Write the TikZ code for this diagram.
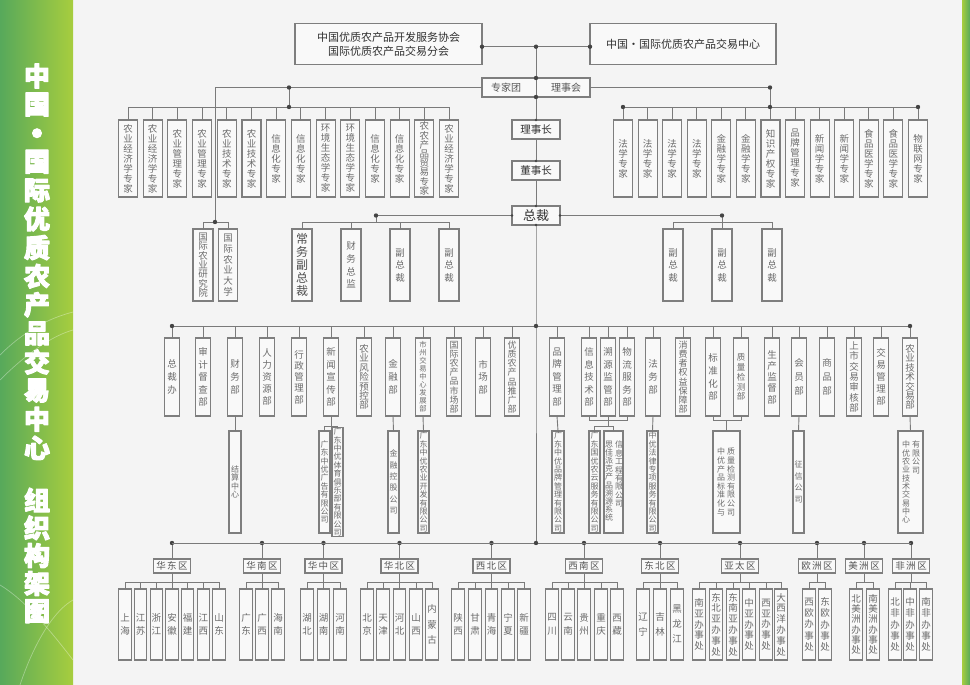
\documentclass[tikz,border=0pt]{standalone}
\usepackage{fontspec}
\setmainfont{Noto Sans CJK SC}
\setlength\parskip{0pt}
\definecolor{bgc}{HTML}{F4F4F4}
\definecolor{lnc}{HTML}{7A7A7A}
\definecolor{bxc}{HTML}{7E7E7E}
\definecolor{bxf}{HTML}{F9F9F9}
\definecolor{txc}{HTML}{6C6C6C}
\definecolor{leafc}{HTML}{6A6A6A}
\definecolor{regc}{HTML}{555555}
\definecolor{tkc}{HTML}{303030}
\definecolor{dotc}{HTML}{444444}
\definecolor{gA}{HTML}{57A95B}
\definecolor{gB}{HTML}{A7CD3E}
\definecolor{dg}{HTML}{2D6631}
\makeatletter
\def\vt#1{\vt@first#1\relax}
\def\vt@first#1{#1\vt@rest}
\def\vt@rest#1{\ifx\relax#1\else\par#1\expandafter\vt@rest\fi}
\def\vtx#1{\expandafter\vt\expandafter{#1}}
\makeatother
\newcommand\fs[2]{\fontsize{#1}{#2}\selectfont\lineskiplimit=-30pt\lineskip=0pt\relax}
\newcommand\otxt[1]{\special{pdf:literal direct 2 Tr 1.0 w 1 j 0.15 0.36 0.17 RG}{\color{white}#1}\special{pdf:literal direct 0 Tr}}
\tikzset{
 lnk/.style={draw=lnc, line width=0.9pt},
 boxs/.style={draw=bxc, line width=1.1pt, fill=bxf, inner sep=0pt, outer sep=0pt},
 vb/.style={boxs, text width=10pt, align=center, text=txc},
 expb/.style={vb, minimum width=19pt, minimum height=77pt},
 deptb/.style={vb, minimum width=15pt, minimum height=78pt},
 subb/.style={vb, text width=9pt, minimum width=12pt, minimum height=102pt, font=\fs{8}{8.4}},
 vpb/.style={vb, minimum width=20pt, minimum height=72pt},
 leafb/.style={vb, minimum width=12.3pt, minimum height=71pt, text=leafc},
 regb/.style={boxs, minimum width=37pt, minimum height=14pt, text=regc, font=\fs{9.5}{10}},
 colt/.style={text width=9pt, align=center, text=txc, anchor=north, inner sep=0pt, font=\fs{8}{8.4}},
 midb/.style={boxs, minimum width=48pt, minimum height=19pt, text=tkc},
}
\newcommand\regblk[4]{%
  \node[regb] (#1) at (#3,566) {#2};
  \draw[lnk] (#1.north |- jR) -- (#1.north);
  \foreach \xp/\lb/\sk [count=\i] in {#4} {
    \node[leafb, font=\fs{9.5}{\sk}] (#1c\i) at (\xp,624.5) {\vtx{\lb}};
    \draw[lnk] (#1c\i.north) -- (#1c\i.north |- yR2);
    \xdef\lastc{\i}
  }
  \draw[lnk] (#1c1.north |- yR2) -- (#1c\lastc.north |- yR2);
  \draw[lnk] (#1.south) -- (#1.south |- yR2);
  \fill[dotc] (#1.north |- jR) circle (2.2pt);
}
\begin{document}
\begin{tikzpicture}[x=1pt,y=-1pt]
\useasboundingbox (0,0) rectangle (970,685);
\fill[bgc] (0,0) rectangle (970,685);
\shade[left color=gA, right color=gB] (0,0) rectangle (73,685);
\shade[left color=gB, right color=gA] (962,0) rectangle (970,685);
\begin{scope}[white, opacity=0.35, line width=0.7pt]
\draw (0,355) .. controls (25,330) and (50,318) .. (73,312);
\draw (0,380) .. controls (30,350) and (55,335) .. (73,330);
\draw (0,585) .. controls (25,600) and (50,630) .. (73,660);
\draw (20,685) .. controls (35,640) and (55,610) .. (73,600);
\end{scope}
% title
\foreach \c [count=\i] in {中,国,●,国,际,优,质,农,产,品,交,易,中,心}{
  \ifnum\i=3
    \node[font=\fs{10}{10}] (t\i) at (37,{76+28.6*(\i-1)}) {\otxt{\c}};
  \else
    \node[font=\fs{26}{26}\bfseries] (t\i) at (37,{76+28.6*(\i-1)}) {\otxt{\c}};
  \fi
}
\foreach \c [count=\i] in {组,织,构,架,图}{
  \node[font=\fs{26}{26}\bfseries] (u\i) at (37,{500+27.8*(\i-1)}) {\otxt{\c}};
}
% top
\node[boxs, minimum width=187pt, minimum height=41pt, text=tkc, align=center, font=\fs{11}{14}] (assoc) at (388.5,44) {中国优质农产品开发服务协会\\国际优质农产品交易分会};
\node[boxs, minimum width=186pt, minimum height=41pt, text=tkc, font=\fs{11}{14}] (center) at (683,44) {中国・国际优质农产品交易中心};
\coordinate (jtop) at (536,46.7);
\node[boxs, minimum width=108pt, minimum height=19pt] (council) at (536,87.5) {};
\node[text=regc, font=\fs{10}{10}] (zjt) at (506,87.5) {专家团};
\node[text=regc, font=\fs{10}{10}] (lsh) at (566,87.5) {理事会};
\node[midb, font=\fs{10.5}{11}] (lsz) at (536,129.5) {理事长};
\node[midb, font=\fs{10.5}{11}] (dsz) at (536,170.5) {董事长};
\node[midb, font=\fs{13}{13}] (zc) at (536,215.5) {总裁};
% experts
\foreach \lb/\sk [count=\i] in {农业经济学专家/10,农业经济学专家/10,农业管理专家/10,农业管理专家/10,农业技术专家/10,农业技术专家/10,信息化专家/10,信息化专家/10,环境生态学专家/10,环境生态学专家/10,信息化专家/10,信息化专家/10,农农产品贸易专家/9.2,农业经济学专家/10}{
  \node[expb, font=\fs{9.5}{\sk}] (e\i) at ({128+24.7*(\i-1)},158.5) {\vtx{\lb}};
}
\foreach \lb [count=\i] in {法学专家,法学专家,法学专家,法学专家,金融学专家,金融学专家,知识产权专家,品牌管理专家,新闻学专家,新闻学专家,食品医学专家,食品医学专家,物联网专家}{
  \node[expb, font=\fs{9.5}{10}] (f\i) at ({623+24.583*(\i-1)},158.5) {\vtx{\lb}};
}
% vice presidents
\node[vpb, font=\fs{9.5}{9.3}] (in1) at (203,265) {\vt{国际农业研究院}};
\node[vpb, font=\fs{9.5}{10.8}, minimum width=19pt] (in2) at (228,265) {\vt{国际农业大学}};
\node[vpb, text width=13pt, text=tkc!85, font=\fs{12}{13}] (v1) at (302,265) {\vt{常务副总裁}};
\node[vpb, font=\fs{9.5}{12.8}] (v2) at (351,265) {\vt{财务总监}};
\node[vpb, font=\fs{9.5}{12.5}] (v3) at (400,265) {\vt{副总裁}};
\node[vpb, font=\fs{9.5}{12.5}] (v4) at (449,265) {\vt{副总裁}};
\node[vpb, font=\fs{9.5}{12.5}] (v5) at (673,265) {\vt{副总裁}};
\node[vpb, font=\fs{9.5}{12.5}] (v6) at (722,265) {\vt{副总裁}};
\node[vpb, font=\fs{9.5}{12.5}] (v7) at (772,265) {\vt{副总裁}};
% departments
\foreach \xp/\lb/\sk/\fz [count=\i] in {172/总裁办/13/9.5, 203/审计督查部/12.5/9.5, 235/财务部/13/9.5, 267/人力资源部/12/9.5, 299/行政管理部/11.3/9.5, 331/新闻宣传部/12.5/9.5, 364/农业风险预控部/9.4/9.5, 393/金融部/13/9.5, 423/市州交易中心发展部/8/7.3, 454/国际农产品市场部/9.2/9, 483/市场部/12.5/9.5, 512/优质农产品推广部/9.2/9}{
  \node[deptb, font=\fs{\fz}{\sk}] (d\i) at (\xp,377) {\vtx{\lb}};
}
\foreach \xp/\lb/\sk/\fz [count=\i from 13] in {557/品牌管理部/12.5/9.5, 589/信息技术部/12.5/9.5, 608/溯源监管部/12.5/9.5, 627/物流服务部/12.5/9.5, 653/法务部/13/9.5, 683/消费者权益保障部/9.2/9, 713/标准化部/12.8/9.5, 741/质量检测部/9.8/8.5, 772/生产监督部/11.3/9.5, 799/会员部/14/9.5, 827/商品部/14/9.5, 854/上市交易审核部/10.3/9.5, 881/交易管理部/12/9.5, 910/农业技术交易部/9.4/9.5}{
  \node[deptb, font=\fs{\fz}{\sk}] (d\i) at (\xp,377) {\vtx{\lb}};
}
% subsidiaries
\node[subb] (s1) at (235,482) {\vt{结算中心}};
\node[subb, minimum width=11pt] (s2) at (324.5,482) {\vt{广东中优广告有限公司}};
\node[subb, minimum width=11pt] (s3) at (337.5,482) {\vt{广东中优体育俱乐部有限公司}};
\node[subb, minimum width=11pt, font=\fs{8}{11.3}] (s4) at (393.5,482) {\vt{金融控股公司}};
\node[subb, minimum width=11pt] (s5) at (423.5,482) {\vt{广东中优农业开发有限公司}};
\node[subb] (s6) at (558,482) {\vt{广东中优品牌管理有限公司}};
\node[subb, minimum width=11pt] (s7) at (594.5,482) {\vt{广东国优农云服务有限公司}};
\node[subb, minimum width=19pt] (s8) at (613.5,482) {};
\node[colt] (s8a) at (619,441) {\vt{信息工程有限公司}};
\node[colt, font=\fs{8}{8.1}] (s8b) at (609,441) {\vt{思佳派克产品溯源系统}};
\node[subb, minimum width=11pt] (s9) at (652.5,482) {\vt{中优法律专项服务有限公司}};
\node[subb, minimum width=27pt] (s10) at (726.5,482) {};
\node[colt, font=\fs{8}{8.6}] (s10a) at (731,448) {\vt{质量检测有限公司}};
\node[colt, font=\fs{8}{8.6}] (s10b) at (721,448) {\vt{中优产品标准化与}};
\node[subb, minimum width=11pt, font=\fs{8}{11.7}] (s11) at (798.5,482) {\vt{征信公司}};
\node[subb, minimum width=25pt] (s12) at (910.5,482) {};
\node[colt] (s12a) at (916,441) {\vt{有限公司}};
\node[colt, font=\fs{8}{8.3}] (s12b) at (906,441) {\vt{中优农业技术交易中心}};
% coordinates
\coordinate (cLL) at (215,87.5);
\coordinate (cL) at (289,87.5);
\coordinate (cR) at (770,87.5);
\coordinate (jEL) at (289,107);
\coordinate (jER) at (770,107);
\coordinate (jIn) at (215,222);
\coordinate (jVL) at (376,215.5);
\coordinate (jVR) at (722,215.5);
\coordinate (bV) at (0,222);
\coordinate (jD) at (536,326);
\coordinate (bS) at (0,426);
\coordinate (bT) at (0,420);
\coordinate (jR) at (536,543);
\coordinate (yR2) at (0,582);
% connectors top
\draw[lnk] (assoc.east |- jtop) -- (center.west |- jtop);
\draw[lnk] (jtop) -- (council.north);
\draw[lnk] (council.north) -- (council.south);
\draw[lnk] (council.south) -- (lsz.north);
\draw[lnk] (lsz.south) -- (dsz.north);
\draw[lnk] (dsz.south) -- (zc.north);
\draw[lnk] (zc.south) -- (jD) -- (jR);
\draw[lnk] (council.west) -- (cLL) -- (jIn);
\draw[lnk] (cL) -- (jEL);
\draw[lnk] (council.east) -- (cR) -- (jER);
\draw[lnk] (e1.north |- jEL) -- (e14.north |- jEL);
\foreach \i in {1,...,14} \draw[lnk] (e\i.north) -- (e\i.north |- jEL);
\draw[lnk] (f1.north |- jER) -- (f13.north |- jER);
\foreach \i in {1,...,13} \draw[lnk] (f\i.north) -- (f\i.north |- jER);
\draw[lnk] (in1.north |- jIn) -- (in2.north |- jIn);
\draw[lnk] (in1.north) -- (in1.north |- jIn);
\draw[lnk] (in2.north) -- (in2.north |- jIn);
\draw[lnk] (zc.west) -- (jVL) -- (jVL |- bV);
\draw[lnk] (v1.north |- bV) -- (v4.north |- bV);
\foreach \i in {1,...,4} \draw[lnk] (v\i.north) -- (v\i.north |- bV);
\draw[lnk] (zc.east) -- (jVR) -- (jVR |- bV);
\draw[lnk] (v5.north |- bV) -- (v7.north |- bV);
\foreach \i in {5,6,7} \draw[lnk] (v\i.north) -- (v\i.north |- bV);
% departments
\draw[lnk] (d1.north |- jD) -- (d26.north |- jD);
\foreach \i in {1,...,26} \draw[lnk] (d\i.north) -- (d\i.north |- jD);
% subsidiaries connectors
\draw[lnk] (d3.south) -- (s1.north);
\draw[lnk] (d6.south) -- (d6.south |- bS);
\draw[lnk] (s2.north |- bS) -- (s3.north |- bS);
\draw[lnk] (s2.north) -- (s2.north |- bS);
\draw[lnk] (s3.north) -- (s3.north |- bS);
\draw[lnk] (d8.south) -- (s4.north);
\draw[lnk] (d9.south) -- (s5.north);
\draw[lnk] (d13.south) -- (s6.north);
\draw[lnk] (d14.south) -- (d14.south |- bT) -- (d16.south |- bT) -- (d16.south);
\draw[lnk] (d15.south) -- (d15.south |- bS);
\draw[lnk] (s7.north |- bS) -- (s8.north |- bS);
\draw[lnk] (s7.north) -- (s7.north |- bS);
\draw[lnk] (s8.north) -- (s8.north |- bS);
\draw[lnk] (d17.south) -- (s9.north);
\draw[lnk] (d19.south) -- (d19.south |- bT) -- (d20.south |- bT) -- (d20.south);
\draw[lnk] (s10.north |- bT) -- (s10.north);
\draw[lnk] (d22.south) -- (s11.north);
\draw[lnk] (d26.south) -- (s12.north);
% regions
\regblk{r1}{华\kern1.5pt东\kern1.5pt区}{172}{125/上海/13.5,140.7/江苏/13.5,156.3/浙江/13.5,172/安徽/13.5,187.7/福建/13.5,203.3/江西/13.5,219/山东/13.5}
\regblk{r2}{华\kern1.5pt南\kern1.5pt区}{262}{246/广东/13.5,262/广西/13.5,278/海南/13.5}
\regblk{r3}{华\kern1.5pt中\kern1.5pt区}{323.5}{307/湖北/13.5,323.5/湖南/13.5,340/河南/13.5}
\regblk{r4}{华\kern1.5pt北\kern1.5pt区}{399.5}{367/北京/13.5,383/天津/13.5,399.5/河北/13.5,416/山西/13.5,432/内蒙古/15.5}
\regblk{r5}{西\kern1.5pt北\kern1.5pt区}{491.5}{458/陕西/13.5,475/甘肃/13.5,491.5/青海/13.5,508/宁夏/13.5,524/新疆/13.5}
\regblk{r6}{西\kern1.5pt南\kern1.5pt区}{584}{552/四川/13.5,568/云南/13.5,584/贵州/13.5,601/重庆/13.5,617/西藏/13.5}
\regblk{r7}{东\kern1.5pt北\kern1.5pt区}{660}{643/辽宁/15,660/吉林/15,677/黑龙江/15}
\regblk{r8}{亚\kern1.5pt太\kern1.5pt区}{740}{699/南亚办事处/10.8,716/东北亚办事处/10.8,733/东南亚办事处/10.8,749/中亚办事处/10.8,766/西亚办事处/10.8,781/大西洋办事处/10.8}
\regblk{r9}{欧\kern1.5pt洲\kern1.5pt区}{817}{809/西欧办事处/11.2,825/东欧办事处/11.2}
\regblk{r10}{美\kern1.5pt洲\kern1.5pt区}{864}{856/北美洲办事处/10.3,873/南美洲办事处/10.3}
\regblk{r11}{非\kern1.5pt洲\kern1.5pt区}{911}{895/北非办事处/11.2,910/中非办事处/11.2,926/南非办事处/11.2}
\draw[lnk] (r1.north |- jR) -- (r11.north |- jR);
% dots
\foreach \p in {jtop, council.north, council.south, cL, cR, jEL, jER, jIn, jVL, jVR, jD, jR}
  \fill[dotc] (\p) circle (2.2pt);
\fill[dotc] (assoc.east |- jtop) circle (2.2pt);
\fill[dotc] (center.west |- jtop) circle (2.2pt);
\fill[dotc] (f1.north |- jER) circle (2.2pt);
\fill[dotc] (f13.north |- jER) circle (2.2pt);
\fill[dotc] (d1.north |- jD) circle (2.2pt);
\fill[dotc] (d26.north |- jD) circle (2.2pt);
\foreach \p in {lsz.north, dsz.north, zc.north, zc.south, zc.west, zc.east}
  \fill[dotc] (\p) circle (1.4pt);
\end{tikzpicture}
\end{document}
